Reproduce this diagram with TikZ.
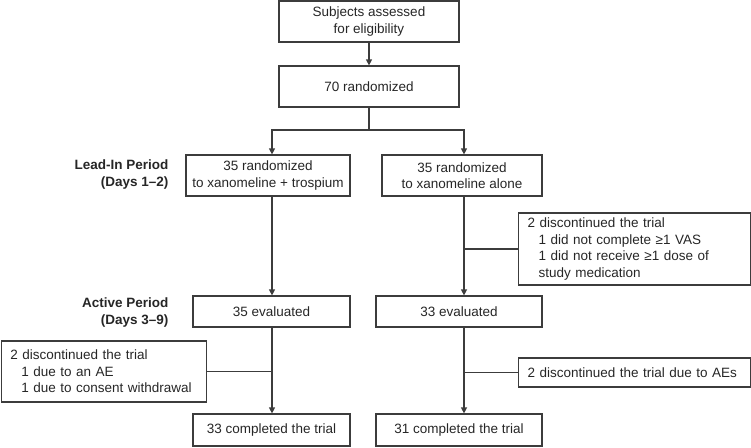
\documentclass[tikz,border=0pt]{standalone}
\usepackage{fontspec}
\setmainfont{Liberation Sans}
\usetikzlibrary{arrows.meta}
\definecolor{flowgray}{HTML}{3C3C3C}
\begin{document}
\begin{tikzpicture}[x=1pt,y=-1pt,
  box/.style={draw=flowgray,line width=1.2pt,minimum height=41pt,inner sep=0pt,align=center,text=black!85,font=\fontsize{13.5}{16.5}\selectfont},
  sidebox/.style={box,align=left,anchor=west,inner xsep=9pt},
  period/.style={anchor=east,align=right,text=black!85,font=\fontsize{13.5}{17}\selectfont\bfseries},
  flow/.style={draw=flowgray,line width=1.2pt,-{Triangle[length=6pt,width=6pt]}},
  link/.style={draw=flowgray,line width=1.2pt}]
\useasboundingbox (0,0) rectangle (751,447);
\coordinate (colL) at (272,0);
\coordinate (colR) at (464,0);
\coordinate (split) at (369,130);
% main column
\node[box,minimum width=180pt] (assess) at (369,21.5) {Subjects assessed\\for eligibility};
\node[box,minimum width=180pt] (rand) at (369,86.5) {70 randomized};
\node[box,minimum width=164pt] (leadL) at (268,175.5) {35 randomized\\to xanomeline + trospium};
\node[box,minimum width=160pt] (leadR) at (462,175.5) {35 randomized\\to xanomeline alone};
\node[box,minimum width=157pt,minimum height=31pt] (evalL) at (271.5,311.5) {35 evaluated};
\node[box,minimum width=166pt,minimum height=31pt] (evalR) at (459,311.5) {33 evaluated};
\node[box,minimum width=157pt,minimum height=32pt] (doneL) at (271.5,430) {33 completed the trial};
\node[box,minimum width=166pt,minimum height=32pt] (doneR) at (459,430) {31 completed the trial};
% periods
\node[period] (leadin) at (172,174.5) {Lead-In Period\\(Days 1–2)};
\node[period] (active) at (172,313) {Active Period\\(Days 3–9)};
% side boxes
\node[sidebox,text width=214pt,minimum height=72pt] (dropR1) at (518,249) {2 discontinued the trial\\\hspace*{11pt}1 did not complete ≥1 VAS\\\hspace*{11pt}1 did not receive ≥1 dose of\\\hspace*{11pt}study medication};
\node[sidebox,text width=214pt,minimum height=29pt] (dropR2) at (518,372.5) {2 discontinued the trial due to AEs};
\node[sidebox,text width=187pt,minimum height=61pt,anchor=east] (dropL) at (207,371.5) {2 discontinued the trial\\\hspace*{11pt}1 due to an AE\\\hspace*{11pt}1 due to consent withdrawal};
% connectors
\draw[flow] (assess) -- (rand);
\draw[link] (rand) -- (split);
\draw[flow] (split) -| (colL |- leadL.north);
\draw[flow] (split) -| (colR |- leadR.north);
\draw[flow] (colL |- leadL.south) -- (colL |- evalL.north);
\draw[flow] (colR |- leadR.south) -- (colR |- evalR.north);
\draw[flow] (colL |- evalL.south) -- (colL |- doneL.north);
\draw[flow] (colR |- evalR.south) -- (colR |- doneR.north);
\draw[link] (dropR1.west) -- (dropR1.west -| colR);
\draw[link] (dropR2.west) -- (dropR2.west -| colR);
\draw[link] (dropL.east) -- (dropL.east -| colL);
\end{tikzpicture}
\end{document}
